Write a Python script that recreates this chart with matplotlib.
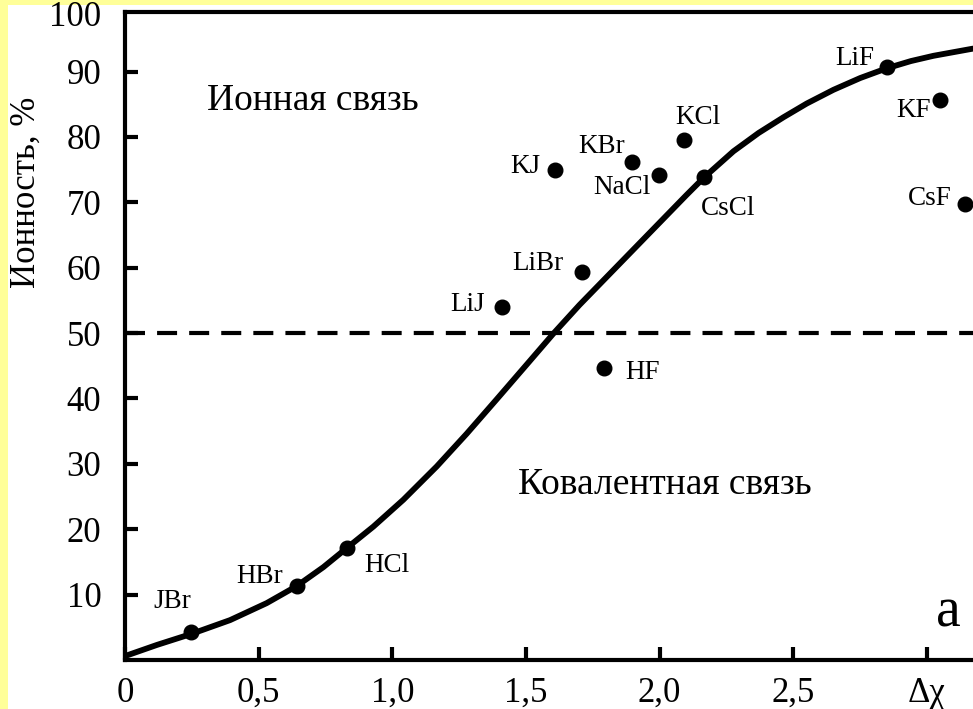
import matplotlib
matplotlib.use("Agg")
import matplotlib.pyplot as plt
from matplotlib.patches import Rectangle

plt.rcParams['font.family'] = ['Liberation Serif', 'DejaVu Serif']

# curve
curve_x = [0.0, 0.119, 0.249, 0.393, 0.530, 0.642, 0.742, 0.829, 0.929, 1.041,
           1.166, 1.278, 1.391, 1.503, 1.602, 1.70, 1.80, 1.90, 2.00, 2.10,
           2.166, 2.276, 2.37, 2.463, 2.55, 2.65, 2.75, 2.85, 2.94, 3.024, 3.172]
curve_y = [0.6, 2.3, 4.0, 6.1, 8.7, 11.3, 14.2, 17.1, 20.4, 24.5,
           29.6, 34.6, 39.9, 45.2, 49.9, 54.3, 58.5, 62.7, 66.9, 71.1,
           73.8, 77.8, 80.6, 83.0, 85.1, 87.2, 89.0, 90.5, 91.6, 92.4, 93.5]

# compounds
names = ['JBr', 'HBr', 'HCl', 'LiJ', 'LiBr', 'KJ', 'KBr', 'NaCl', 'KCl',
         'CsCl', 'HF', 'LiF', 'KF', 'CsF']
dx = [0.247, 0.642, 0.832, 1.409, 1.708, 1.61, 1.895, 1.999, 2.091,
      2.166, 1.792, 2.852, 3.05, 3.142]
ion = [4.3, 11.3, 17.2, 54.0, 59.4, 74.9, 76.2, 74.1, 79.5,
       73.8, 44.6, 90.7, 85.7, 69.7]
# where each name is written
lab_x = [0.175, 0.505, 0.98, 1.283, 1.545, 1.496, 1.784, 1.859, 2.144,
         2.256, 1.934, 2.731, 2.948, 3.012]
lab_y = [8.9, 12.7, 14.5, 54.3, 60.7, 75.4, 78.6, 72.2, 83.0,
         69.1, 44.0, 92.0, 84.1, 70.6]

xticks = [0, 0.5, 1.0, 1.5, 2.0, 2.5, 3.0]
xticklabels = ['0', '0,5', '1,0', '1,5', '2,0', '2,5', 'Δχ']
yticks = [10, 20, 30, 40, 50, 60, 70, 80, 90]
yticklabels = ['10', '20', '30', '40', '50', '60', '70', '80', '90']

fig = plt.figure(figsize=(9.73, 7.09), dpi=100)
fig.patch.set_facecolor('#FFFF99')
fig.patches.append(Rectangle((8 / 973, 0), 1, 1 - 5 / 709, transform=fig.transFigure,
                             facecolor='white', edgecolor='none', zorder=-5))

ax = fig.add_axes([125 / 973, 1 - 660 / 709, 1 - 125 / 973, 648 / 709])
ax.set_zorder(2)
ax.set_facecolor('white')
ax.set_xlim(0, 3.172)
ax.set_ylim(0, 99.1)

ax.plot(curve_x, curve_y, color='black', lw=4.2, solid_joinstyle='round',
        solid_capstyle='round', zorder=3)
ax.plot([0, 3.172], [50, 50], color='black', lw=3, dashes=(4.8, 2.9), zorder=2)
ax.plot(dx, ion, 'o', color='black', ms=10.5, zorder=4)

for n, x, y in zip(names, lab_x, lab_y):
    ax.text(x, y, n, fontsize=19.5, ha='center', va='center')

ax.text(0.307, 85.6, 'Ионная связь', fontsize=27, ha='left', va='center')
ax.text(1.47, 26.8, 'Ковалентная связь', fontsize=27, ha='left', va='center')
ax.text(3.079, 7.3, 'a', fontsize=40, ha='center', va='center')

for s in ['left', 'bottom', 'top']:
    ax.spines[s].set_linewidth(3)
ax.spines['right'].set_visible(False)

ax.set_xticks(xticks)
ax.set_xticklabels(xticklabels)
ax.set_yticks(yticks)
ax.set_yticklabels(yticklabels)
ax.tick_params(direction='in', length=9.5, width=3, labelsize=25)
ax.tick_params(axis='y', pad=17)
ax.tick_params(axis='x', pad=12)
ax.annotate('100', xy=(0, 98.2), xycoords=('axes fraction', 'data'),
            xytext=(-17, 0), textcoords='offset points',
            ha='right', va='center', fontsize=25)

ax.set_ylabel('Ионность, %', fontsize=25)
ax.yaxis.set_label_coords(-0.097, 0.722)

fig.savefig('out.png', dpi=100, facecolor=fig.get_facecolor())
